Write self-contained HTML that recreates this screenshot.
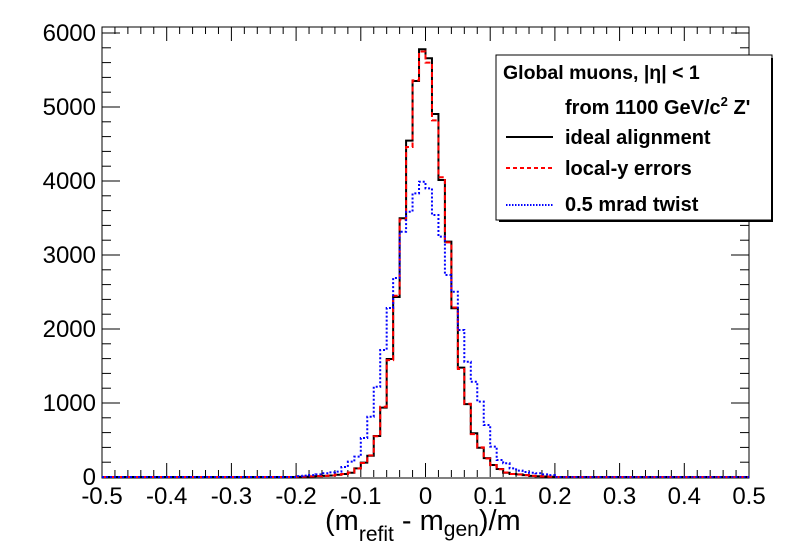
<!DOCTYPE html>
<html><head><meta charset="utf-8"><style>
body{margin:0;background:#fff;}
svg{display:block;font-family:"Liberation Sans",sans-serif;}
</style></head><body>
<svg id="c" width="787" height="549"></svg>
<script>
const binW = 0.01;
const binStarts = [-0.20,-0.19,-0.18,-0.17,-0.16,-0.15,-0.14,-0.13,-0.12,-0.11,-0.10,-0.09,-0.08,-0.07,-0.06,-0.05,-0.04,-0.03,-0.02,-0.01,0.00,0.01,0.02,0.03,0.04,0.05,0.06,0.07,0.08,0.09,0.10,0.11,0.12,0.13,0.14,0.15,0.16,0.17,0.18,0.19];
const idealVals = [3,5,8,12,15,20,30,40,58,117,194,288,554,937,1595,2432,3496,4545,5351,5780,5658,4905,4013,3180,2280,1478,985,592,396,255,162,108,58,40,35,25,15,10,6,3];
const localVals = [3,5,8,12,15,20,30,40,60,115,190,292,550,950,1580,2450,3480,4460,5360,5750,5600,4820,4050,3170,2290,1460,990,580,400,250,160,105,60,40,33,25,15,10,6,3];
const twistVals = [12,18,25,35,50,62,72,135,207,275,527,815,1220,1716,2284,2690,3315,3585,3833,3990,3900,3540,3248,2730,2504,1986,1558,1288,1018,703,410,230,185,117,86,68,58,50,35,25];
const xTicks = [-0.5,-0.4,-0.3,-0.2,-0.1,0,0.1,0.2,0.3,0.4,0.5];
const yTicks = [0,1000,2000,3000,4000,5000,6000];

const X0=102,X1=749,Y0=477,Ytop=27;
const sx=v=>X0+(v+0.5)/1.0*(X1-X0);
const sy=v=>Y0-v*74/1000;
const svg=document.getElementById('c');
const NS='http://www.w3.org/2000/svg';
function mk(t,a,p){const e=document.createElementNS(NS,t);for(const k in a)e.setAttribute(k,a[k]);(p||svg).appendChild(e);return e;}

const frame=mk('rect',{x:X0,y:Ytop,width:X1-X0,height:Y0-Ytop+1,fill:'none',stroke:'#000','stroke-width':1});



for(let i=0;i<=50;i++){const v=-0.5+i*0.02;const x=sx(v);const major=(i%5===0);const L=major?14:7;
 mk('line',{x1:x,x2:x,y1:Y0,y2:Y0-L,stroke:'#000'});mk('line',{x1:x,x2:x,y1:Ytop,y2:Ytop+L,stroke:'#000'});}
xTicks.forEach(v=>{const t=mk('text',{x:sx(v),y:504,'font-size':24,'text-anchor':'middle'});t.textContent=(v===0?'0':String(v));
 
 });
for(let i=0;i<=30;i++){const v=i*200;const y=sy(v);if(y<Ytop)break;const major=(i%5===0);const L=major?18:9;
 mk('line',{x1:X0,x2:X0+L,y1:y,y2:y,stroke:'#000'});mk('line',{x1:X1,x2:X1-L,y1:y,y2:y,stroke:'#000'});}
yTicks.forEach(v=>{const t=mk('text',{x:96,y:sy(v)+8,'font-size':24,'text-anchor':'end'});t.textContent=String(v);
 
 });

function hist(vals,color,dash,name){
 let d='M'+X0+','+Y0;
 d+=' L'+sx(binStarts[0])+','+Y0;
 vals.forEach((v,i)=>{const a=sx(binStarts[i]),b=sx(binStarts[i]+binW);d+=' L'+a+','+sy(v)+' L'+b+','+sy(v);});
 d+=' L'+sx(binStarts[vals.length-1]+binW)+','+Y0+' L'+X1+','+Y0;
 const p=mk('path',{d:d,fill:'none',stroke:color,'stroke-width':2,'stroke-dasharray':dash});
 
 
}
hist(idealVals,'#000','none','series-ideal-alignment');
hist(localVals,'#f00','5,3','series-local-y-errors');
hist(twistVals,'#00f','2,2','series-twist');

const xt=mk('text',{x:325,y:530,'font-size':29});


xt.innerHTML='(m<tspan font-size="21" dy="11">refit</tspan><tspan dy="-11"> - m</tspan><tspan font-size="21" dy="6">gen</tspan><tspan dy="-6">)/m</tspan>';

const lg=mk('g',{});


mk('rect',{x:496,y:55,width:276,height:165,fill:'#fff',stroke:'#000'},lg);
mk('line',{x1:772,x2:772,y1:58,y2:222,stroke:'#000','stroke-width':2},lg);
mk('line',{x1:499,x2:772,y1:221,y2:221,stroke:'#000','stroke-width':2},lg);
const lines=[['Global muons, |η| &lt; 1',503,79,19.5],['from 1100 GeV/c<tspan font-size="13" dy="-8">2</tspan><tspan dy="8"> Z\'</tspan>',565,114,20],['ideal alignment',565,144,20],['local-y errors',565,175,20],['0.5 mrad twist',565,211,20]];
lines.forEach(l=>{const t=mk('text',{x:l[1],y:l[2],'font-size':l[3],'font-weight':'bold'},lg);t.innerHTML=l[0];
 
 });
[['#000','none',137],['#f00','4,3',168],['#00f','1.5,1.5',205]].forEach(s=>{const e=mk('line',{x1:506,x2:553,y1:s[2],y2:s[2],stroke:s[0],'stroke-width':2,'stroke-dasharray':s[1]},lg);
 
 });
</script>
</body></html>
